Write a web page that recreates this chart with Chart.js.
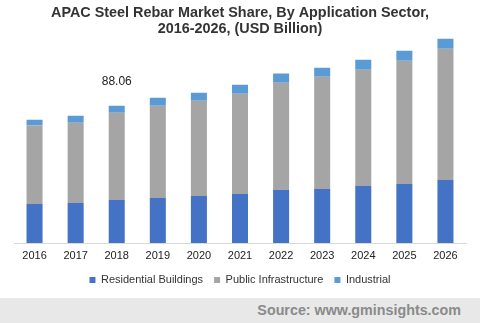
<!DOCTYPE html>
<html>
<head>
<meta charset="utf-8">
<script src="https://cdn.jsdelivr.net/npm/chart.js@4"></script>
<style>
  html, body { margin: 0; padding: 0; background: #fff; }
  #wrap { width: 480px; height: 298px; position: relative; }
  #source {
    width: 480px; height: 25px; background: #e8e8e8;
    font: bold 14.3px "Liberation Sans", Arial, sans-serif; color: #8a8a8a;
    text-align: right; line-height: 25px; box-sizing: border-box; padding-right: 19px;
  }
</style>
</head>
<body>
<div id="wrap"><canvas id="barChart"></canvas></div>
<div id="source">Source: www.gminsights.com</div>
<script>
// market size by sector, USD billion
const years = ['2016', '2017', '2018', '2019', '2020', '2021', '2022', '2023', '2024', '2025', '2026'];
const residential = [25.1, 25.7, 27.6, 28.9, 30.2, 31.5, 34.1, 34.7, 36.6, 37.9, 40.5];
const publicInfra = [50.3, 51.4, 55.96, 59.2, 61.1, 64.3, 68.8, 72.0, 74.6, 79.1, 84.2];
const industrial = [3.7, 4.5, 4.5, 5.1, 5.1, 5.8, 5.8, 5.8, 6.4, 6.4, 6.4];

const labelIndex = 2; // 2018 total shown above the bar

const totalLabel = {
    id: 'totalLabel',
    afterDatasetsDraw(chart) {
        const { ctx } = chart;
        const yScale = chart.scales.y;
        const x = chart.getDatasetMeta(2).data[labelIndex].x;
        const total = residential[labelIndex] + publicInfra[labelIndex] + industrial[labelIndex];
        ctx.save();
        ctx.font = '12px "Liberation Sans", Arial, sans-serif';
        ctx.fillStyle = '#222';
        ctx.textAlign = 'center';
        ctx.textBaseline = 'middle';
        ctx.fillText(total.toFixed(2), x, yScale.getPixelForValue(total) - 24);
        ctx.restore();
    }
};

Chart.defaults.font.family = '"Liberation Sans", Arial, sans-serif';

new Chart(document.getElementById('barChart').getContext('2d'), {
    type: 'bar',
    data: {
        labels: years,
        datasets: [
            { label: 'Residential Buildings', data: residential, backgroundColor: '#4472c4' },
            { label: 'Public Infrastructure', data: publicInfra, backgroundColor: '#a5a5a5' },
            { label: 'Industrial', data: industrial, backgroundColor: '#5b9bd5' }
        ]
    },
    options: {
        responsive: true,
        maintainAspectRatio: false,
        animation: false,
        datasets: { bar: { barPercentage: 0.39, categoryPercentage: 1 } },
        layout: { padding: { left: 14, right: 14, top: 0, bottom: 2.5 } },
        scales: {
            x: {
                stacked: true,
                grid: { display: false, drawTicks: false },
                border: { color: '#d9d9d9' },
                ticks: { color: '#222', font: { size: 11 }, padding: 6.5 },
                afterFit(scale) { scale.height = 20.5; }
            },
            y: {
                stacked: true,
                display: false,
                min: 0,
                max: 132.4
            }
        },
        plugins: {
            title: {
                display: true,
                text: ['APAC Steel Rebar Market Share, By Application Sector,', '2016-2026, (USD Billion)'],
                color: '#333',
                font: { size: 14.4, weight: 'bold', lineHeight: 1.1 },
                padding: { top: 5, bottom: 0 }
            },
            legend: {
                position: 'bottom',
                labels: {
                    color: '#333',
                    font: { size: 11 },
                    boxWidth: 6,
                    boxHeight: 6,
                    padding: 11
                }
            },
            tooltip: { enabled: false }
        }
    },
    plugins: [totalLabel]
});
</script>
</body>
</html>
